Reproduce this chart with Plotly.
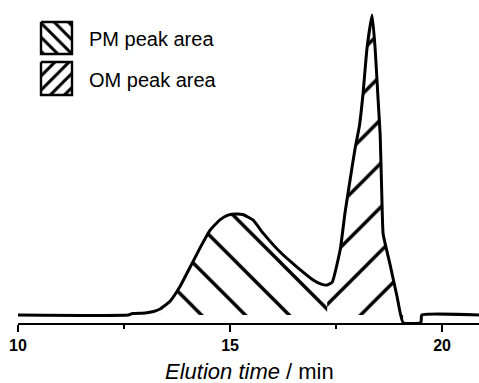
import plotly.graph_objects as go

# Chromatogram trace (elution time in min, normalised signal)
time_min = [10.0, 12.6, 12.7, 13.0, 13.2, 13.35, 13.58, 13.82, 14.06, 14.29, 14.53, 14.76,
            14.95, 15.15, 15.3, 15.54, 15.78, 16.18, 16.58, 16.96, 17.15, 17.29, 17.41,
            17.6, 17.71, 17.83, 17.95, 18.05, 18.13, 18.23, 18.35, 18.42, 18.49, 18.54,
            18.58, 18.61, 18.77, 18.94, 19.08, 19.5, 19.52, 20.87]
signal = [0.0, 0.0, 0.005, 0.007, 0.012, 0.02, 0.045, 0.095, 0.16, 0.223, 0.283, 0.317,
          0.333, 0.337, 0.335, 0.317, 0.273, 0.21, 0.16, 0.117, 0.103, 0.1, 0.11,
          0.22, 0.34, 0.45, 0.557, 0.63, 0.73, 0.89, 1.0, 0.89, 0.72, 0.6,
          0.39, 0.27, 0.17, 0.06, -0.025, -0.025, 0.0, 0.0]

pm_start, split, om_end = 13.3, 17.29, 19.08
legend_labels = ["PM peak area", "OM peak area"]
tick_vals = [10, 15, 20]
tick_text = ["10", "15", "20"]
x_title = "<i>Elution time</i> / min"

pm_x = [t for t in time_min if pm_start <= t <= split]
pm_y = [s for t, s in zip(time_min, signal) if pm_start <= t <= split]
om_x = [t for t in time_min if split <= t <= om_end]
om_y = [s for t, s in zip(time_min, signal) if split <= t <= om_end]

def hatch(shape, size, solidity, bg):
    return dict(shape=shape, size=size, solidity=solidity, fgcolor="black",
                fgopacity=1, bgcolor=bg)

fig = go.Figure()
fig.add_trace(go.Scatter(x=pm_x, y=pm_y, mode="lines", line=dict(width=0, shape="spline", smoothing=0.4),
                         fill="tozeroy", fillcolor="rgba(0,0,0,0)",
                         fillpattern=hatch("\\", 31, 0.11, "rgba(0,0,0,0)"),
                         showlegend=False, hoverinfo="skip"))
fig.add_trace(go.Scatter(x=om_x, y=om_y, mode="lines", line=dict(width=0, shape="spline", smoothing=0.4),
                         fill="tozeroy", fillcolor="rgba(0,0,0,0)",
                         fillpattern=hatch("/", 31, 0.11, "rgba(0,0,0,0)"),
                         showlegend=False, hoverinfo="skip"))
fig.add_trace(go.Scatter(x=time_min, y=signal, mode="lines",
                         line=dict(color="black", width=3, shape="spline", smoothing=0.4),
                         showlegend=False))

# custom legend swatches on a pixel-unit overlay axis
boxes = [(41, 72, 22, 54, "\\"), (41, 72, 62, 95, "/")]
text_y = [39, 80]
for (x0, x1, y0, y1, shp), lab, ty in zip(boxes, legend_labels, text_y):
    fig.add_trace(go.Scatter(x=[x0, x1, x1, x0, x0], y=[y0, y0, y1, y1, y0], xaxis="x2", yaxis="y2",
                             mode="lines", fill="toself", fillcolor="white",
                             fillpattern=hatch(shp, 10, 0.3, "white"),
                             line=dict(color="black", width=2.4), showlegend=False, hoverinfo="skip"))
    fig.add_annotation(x=87, y=ty, xref="x2", yref="y2", text=lab, showarrow=False,
                       xanchor="left", yanchor="middle",
                       font=dict(family="Liberation Sans, Arial", size=20, color="black"))

# axis title (paper coords, below the plot area)
fig.add_annotation(x=0.503, y=-0.149, xref="paper", yref="paper", text=x_title, showarrow=False,
                   xanchor="center", yanchor="middle",
                   font=dict(family="Liberation Sans, Arial", size=22, color="black"))

fig.update_layout(
    width=479, height=383,
    margin=dict(l=18, r=0, t=0, b=60, autoexpand=False),
    paper_bgcolor="white", plot_bgcolor="white",
    xaxis=dict(range=[10, 20.87], showgrid=False, zeroline=False, automargin=False,
               showline=True, linecolor="black", linewidth=2,
               ticks="outside", ticklen=7, tickwidth=2, tickcolor="black",
               tickvals=tick_vals, ticktext=tick_text,
               tickfont=dict(family="Liberation Sans, Arial", size=16, color="black", weight="bold"),
               minor=dict(tickvals=[12.5, 17.5], ticks="outside", ticklen=4, tickwidth=2, tickcolor="black")),
    yaxis=dict(range=[-0.0265, 1.05], visible=False),
    xaxis2=dict(range=[18, 479], overlaying="x", visible=False),
    yaxis2=dict(range=[323, 0], overlaying="y", visible=False),
)

fig.write_html("out.html")
